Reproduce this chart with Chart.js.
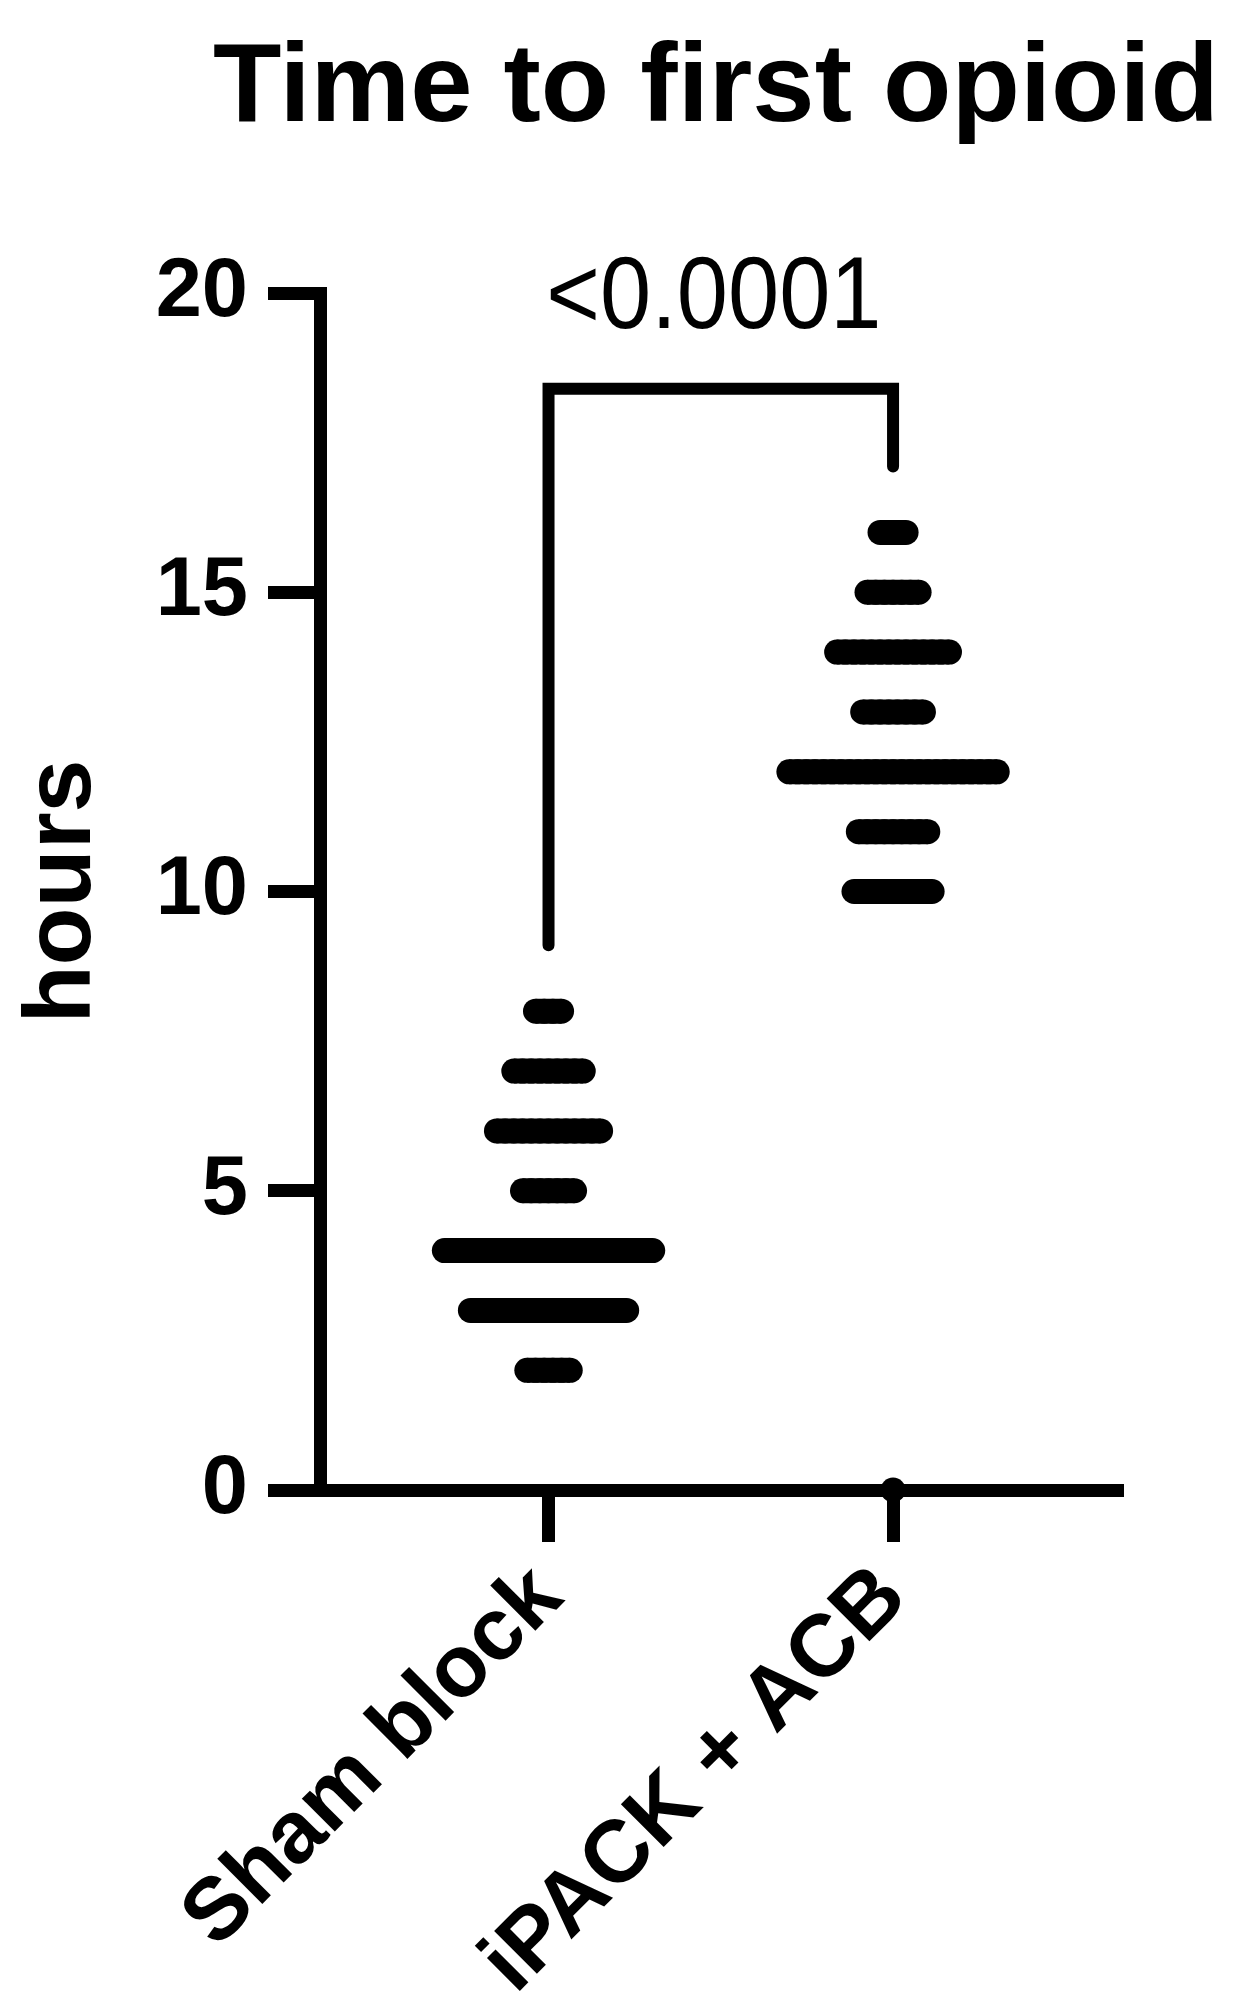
<!DOCTYPE html>
<html>
<head>
<meta charset="utf-8">
<script src="https://cdn.jsdelivr.net/npm/chart.js@4.4.1/dist/chart.umd.min.js"></script>
<style>
  html, body { margin: 0; padding: 0; background: #fff; }
  canvas { display: block; }
</style>
</head>
<body>
<canvas id="chart" width="1257" height="2012"></canvas>
<script>
const groups = ["Sham block", "iPACK + ACB"];

// hours to first opioid, and how many patients at each hour
const shamHours = [2, 3, 4, 5, 6, 7, 8];
const shamCounts = [6, 19, 25, 7, 13, 9, 4];
const ipackHours = [0, 10, 11, 12, 13, 14, 15, 16];
const ipackCounts = [1, 10, 9, 25, 8, 14, 7, 4];

const yTicks = [0, 5, 10, 15, 20];

const pValue = "<0.0001";
const bracketTop = 18.4;
const bracketLeftEnd = 9.1;
const bracketRightEnd = 17.1;

const FONT = "'Liberation Sans', Arial, Helvetica, sans-serif";
const dotStep = 0.0252; // horizontal step between stacked dots, x units

// one dot per patient, rows separated by a gap so the joining line breaks
function stackDots(groupX, hours, counts) {
  const pts = [];
  hours.forEach((h, k) => {
    const n = counts[k];
    for (let i = 0; i < n; i++) {
      pts.push({ x: groupX + (i - (n - 1) / 2) * dotStep, y: h });
    }
    pts.push({ x: groupX, y: null });
  });
  return pts;
}

const titlePlugin = {
  id: "figureText",
  afterDraw(chart) {
    const { ctx, scales } = chart;
    ctx.save();
    ctx.fillStyle = "#000";
    ctx.textAlign = "center";
    ctx.textBaseline = "alphabetic";
    ctx.font = "bold 112px " + FONT;
    ctx.fillText("Time to first opioid", 716, 121);

    const px = scales.x.getPixelForValue(1.48);
    const py = scales.y.getPixelForValue(19.42);
    ctx.translate(px, py);
    ctx.scale(1, 1.1);
    ctx.font = "92px " + FONT;
    ctx.fillText(pValue, 0, 0);
    ctx.restore();
  }
};

const axisGrid = {
  drawOnChartArea: false,
  drawTicks: true,
  tickLength: 52,
  tickWidth: 13,
  tickColor: "#000",
  lineWidth: 13,
  color: "#000"
};

function dotSet(label, data) {
  return {
    label: label,
    data: data,
    showLine: true,
    spanGaps: false,
    borderColor: "#000",
    borderWidth: 25,
    borderCapStyle: "butt",
    backgroundColor: "#000",
    pointBorderWidth: 0,
    pointRadius: 12.5,
    clip: false
  };
}

const ctx = document.getElementById("chart").getContext("2d");
const chart = new Chart(ctx, {
  type: "scatter",
  data: {
    datasets: [
      dotSet(groups[0], stackDots(1, shamHours, shamCounts)),
      dotSet(groups[1], stackDots(2, ipackHours, ipackCounts)),
      {
        type: "line",
        label: "bracket",
        data: [
          { x: 1, y: bracketLeftEnd },
          { x: 1, y: bracketTop },
          { x: 2, y: bracketTop },
          { x: 2, y: bracketRightEnd }
        ],
        borderColor: "#000",
        borderWidth: 12,
        borderCapStyle: "round",
        borderJoinStyle: "miter",
        pointRadius: 0,
        tension: 0,
        clip: false
      }
    ]
  },
  options: {
    responsive: false,
    animation: false,
    devicePixelRatio: 1,
    layout: { padding: { top: 293, right: 140, bottom: 0, left: 0 } },
    plugins: {
      legend: { display: false },
      tooltip: { enabled: false }
    },
    scales: {
      x: {
        type: "linear",
        min: 0.3367,
        max: 2.65,
        afterBuildTicks: (s) => { s.ticks = groups.map((g, i) => ({ value: i + 1 })); },
        afterFit: (s) => { s.height = 522; },
        ticks: {
          callback: (v) => groups[v - 1],
          autoSkip: false,
          minRotation: 45,
          maxRotation: 45,
          padding: 4,
          color: "#000",
          font: { family: FONT, size: 88, weight: "bold" }
        },
        grid: axisGrid,
        border: { display: true, width: 13, color: "#000" }
      },
      y: {
        type: "linear",
        min: 0,
        max: 20,
        afterBuildTicks: (s) => { s.ticks = yTicks.map((v) => ({ value: v })); },
        afterFit: (s) => { s.width = 320; },
        ticks: {
          padding: 20,
          color: "#000",
          font: { family: FONT, size: 83, weight: "bold" }
        },
        grid: axisGrid,
        border: { display: true, width: 13, color: "#000" },
        title: {
          display: true,
          text: "hours",
          color: "#000",
          padding: { top: 7, bottom: 0 },
          font: { family: FONT, size: 95, weight: "bold" }
        }
      }
    }
  },
  plugins: [titlePlugin]
});
</script>
</body>
</html>
